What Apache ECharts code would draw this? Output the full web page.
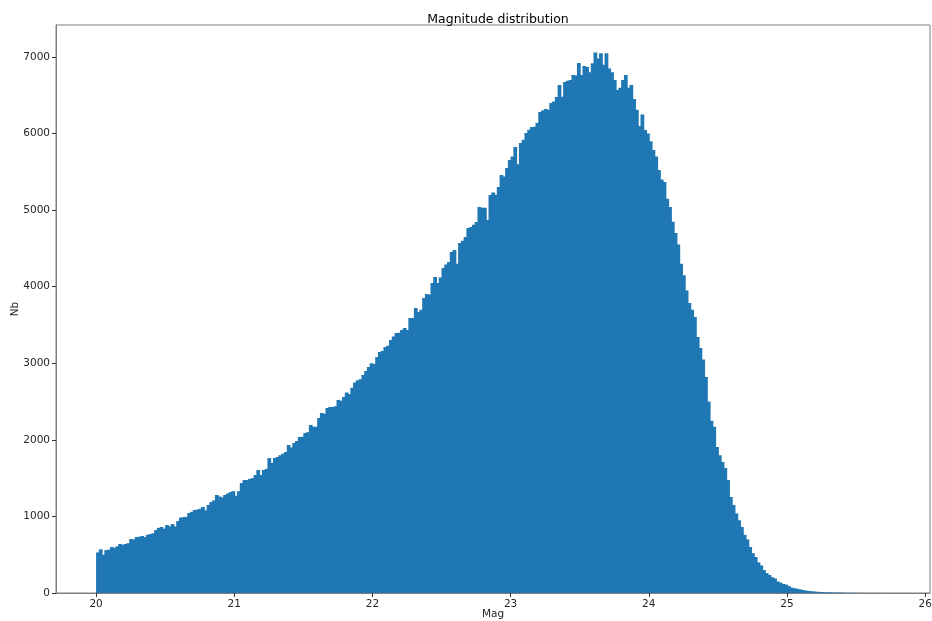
<!DOCTYPE html>
<html>
<head>
<meta charset="utf-8">
<script src="https://cdn.jsdelivr.net/npm/echarts@6/dist/echarts.min.js"></script>
<style>html,body{margin:0;padding:0;background:#fff;}#chart{width:932px;height:621px;}</style>
</head>
<body>
<div id="chart"></div>
<script>
// Histogram bins: left edge of first bin and bin width (magnitudes)
const BIN_START = 20.0;
const BIN_WIDTH = 0.02;

// Bin counts (Nb), per magnitude unit
const counts20 = [
  530, 570, 500, 560, 565,   600, 590, 610, 640, 630,
  640, 650, 705, 700, 731,   735, 745, 730, 760, 770,
  780, 822, 850, 862, 840,   888, 870, 900, 870, 940,
  985, 990, 995, 1045, 1060, 1084, 1090, 1100, 1123, 1080,
  1150, 1188, 1210, 1280, 1260, 1250, 1280, 1300, 1319, 1330
];
const counts21 = [
  1270, 1330, 1436, 1475, 1475, 1490, 1500, 1541, 1606, 1541,
  1606, 1620, 1763, 1700, 1763, 1776, 1800, 1820, 1841, 1933,
  1900, 1960, 1985, 2037, 2040, 2090, 2100, 2194, 2170, 2170,
  2285, 2350, 2340, 2416, 2430, 2430, 2440, 2520, 2510, 2560,
  2620, 2600, 2680, 2750, 2780, 2790, 2847, 2900, 2950, 3000
];
const counts22 = [
  2990, 3080, 3147, 3160, 3213, 3230, 3304, 3350, 3395, 3400,
  3435, 3460, 3435, 3591, 3591, 3722, 3670, 3700, 3853, 3905,
  3900, 4049, 4127, 4050, 4120, 4245, 4290, 4323, 4453, 4480,
  4300, 4571, 4600, 4650, 4767, 4780, 4810, 4845, 5041, 5030,
  5030, 4870, 5198, 5230, 5200, 5302, 5459, 5440, 5550, 5655
];
const counts23 = [
  5700, 5825, 5600, 5877, 5920, 6007, 6050, 6086, 6090, 6138,
  6282, 6300, 6320, 6310, 6399, 6420, 6478, 6634, 6480, 6674,
  6690, 6700, 6765, 6760, 6922, 6765, 6883, 6870, 6800, 6920,
  7060, 6980, 7050, 6900, 7050, 6850, 6800, 6700, 6570, 6600,
  6700, 6765, 6600, 6635, 6450, 6310, 6100, 6250, 6047, 6000
];
const counts24 = [
  5900, 5786, 5700, 5524, 5400, 5368, 5150, 5041, 4850, 4700,
  4550, 4300, 4150, 3950, 3787, 3700, 3605, 3343, 3200, 3050,
  2821, 2500, 2250, 2170, 1907, 1800, 1711, 1632, 1476, 1254,
  1150, 1040, 950, 862, 760, 700, 601, 520, 470, 400,
  360, 300, 260, 235, 205, 190, 150, 135, 118, 110
];
const counts25 = [
  90, 70, 62, 55, 48, 40, 32, 27, 24, 20,
  17, 14, 12, 10, 9, 8, 7, 6, 5, 5,
  4, 3, 3, 2, 2, 2, 1, 1, 1, 1,
  1, 0, 1, 0, 0, 1
];

const xTicks = [20, 21, 22, 23, 24, 25, 26];
const yTicks = [0, 1000, 2000, 3000, 4000, 5000, 6000, 7000];

const allCounts = [].concat(counts20, counts21, counts22, counts23, counts24, counts25);
const binData = allCounts.map((c, i) => [+(BIN_START + i * BIN_WIDTH).toFixed(4), c]);

const BLUE = '#1f77b4';
const FRAME = '#7f7f7f';
const TXT = '#262626';
const FONT = 'DejaVu Sans';

const chart = echarts.init(document.getElementById('chart'), null, {renderer: 'canvas'});
chart.setOption({
  animation: false,
  backgroundColor: '#ffffff',
  textStyle: {fontFamily: FONT},
  title: {
    text: 'Magnitude distribution',
    left: 493, top: 8, textAlign: 'center',
    textStyle: {fontFamily: FONT, fontSize: 12.5, fontWeight: 'normal', color: '#000'}
  },
  grid: {
    left: 56, right: 2, top: 25, bottom: 28,
    containLabel: false, outerBoundsMode: 'none',
    show: true, borderColor: FRAME, borderWidth: 1, backgroundColor: 'transparent'
  },
  xAxis: {
    type: 'value', min: 19.71, max: 26.035,
    name: 'Mag', nameLocation: 'middle', nameGap: 16, nameMoveOverlap: false,
    nameTextStyle: {fontFamily: FONT, fontSize: 10.5, color: TXT},
    axisLine: {show: true, onZero: false, lineStyle: {color: FRAME, width: 1}},
    axisTick: {show: true, length: 4, customValues: xTicks, lineStyle: {color: '#333'}},
    axisLabel: {customValues: xTicks, margin: 6, fontFamily: FONT, fontSize: 10.5, color: TXT,
      formatter: v => String(v)},
    splitLine: {show: false}
  },
  yAxis: {
    type: 'value', min: 0, max: 7418,
    name: 'Nb', nameLocation: 'middle', nameGap: 35, nameRotate: 90, nameMoveOverlap: false,
    nameTextStyle: {fontFamily: FONT, fontSize: 10.5, color: TXT},
    axisLine: {show: true, lineStyle: {color: FRAME, width: 1}},
    axisTick: {show: true, length: 4, customValues: yTicks, lineStyle: {color: '#333'}},
    axisLabel: {customValues: yTicks, margin: 6, fontFamily: FONT, fontSize: 10.5, color: TXT,
      formatter: v => String(v)},
    splitLine: {show: false}
  },
  series: [{
    type: 'custom',
    data: binData,
    encode: {x: 0, y: 1},
    clip: true,
    renderItem: function (params, api) {
      const x0 = api.value(0);
      const y = api.value(1);
      const pTop = api.coord([x0, y]);
      const pBot = api.coord([x0 + BIN_WIDTH, 0]);
      return {
        type: 'rect',
        // slight horizontal overlap hides antialiasing seams between adjacent bins
        shape: {x: pTop[0], y: pTop[1], width: pBot[0] - pTop[0] + 1, height: pBot[1] - pTop[1]},
        style: {fill: BLUE}
      };
    }
  }]
});
</script>
</body>
</html>
